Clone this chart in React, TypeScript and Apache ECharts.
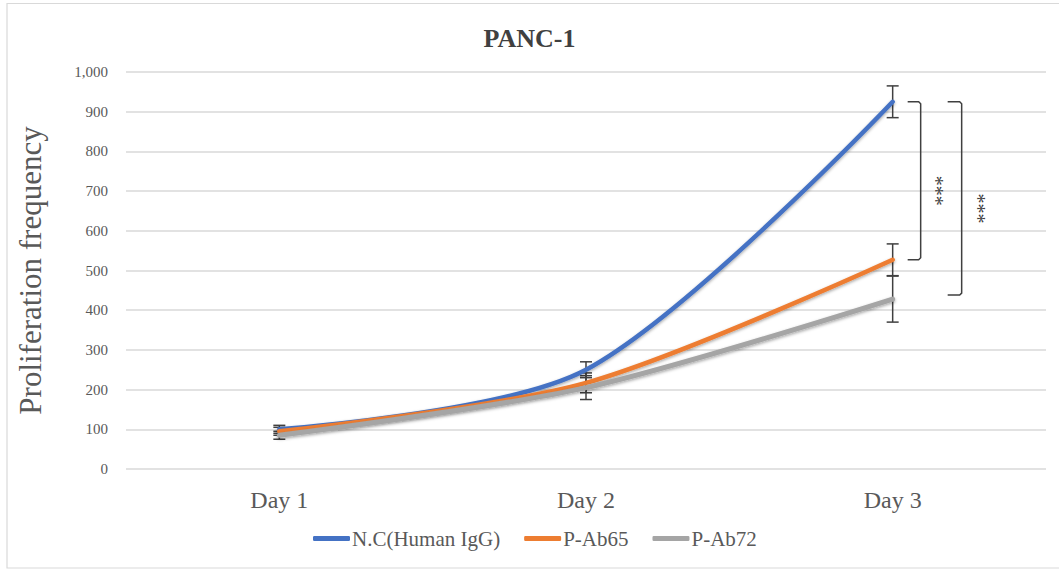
import React, { useEffect, useRef } from "react";
import * as echarts from "echarts";

const days = ["Day 1", "Day 2", "Day 3"];
const seriesNames = ["N.C(Human IgG)", "P-Ab65", "P-Ab72"];
const ncValues = [100, 250, 925];
const ab65Values = [95, 217, 527];
const ab72Values = [85, 205, 428];
const ncErrors = [10, 20, 40];
const ab65Errors = [10, 25, 40];
const ab72Errors = [10, 30, 58];
const colors = ["#4472C4", "#ED7D31", "#A5A5A5"];
// significance brackets at Day 3: [top value, bottom value, label]
const bracketTops = [925, 925];
const bracketBottoms = [527, 438];
const bracketLabels = ["***", "***"];
const yTicks = [0, 100, 200, 300, 400, 500, 600, 700, 800, 900, 1000];

const SERIF = "Liberation Serif";

export default function App() {
  const ref = useRef<HTMLDivElement>(null);
  useEffect(() => {
    if (!ref.current) return;
    const chart = echarts.init(ref.current, undefined, { renderer: "svg" });
    const valueSets = [ncValues, ab65Values, ab72Values];
    const errSets = [ncErrors, ab65Errors, ab72Errors];
    const errData: number[][] = [];
    valueSets.forEach((vals, s) => {
      vals.forEach((v, i) => {
        errData.push([i, v - errSets[s][i], v + errSets[s][i]]);
      });
    });
    const bracketData = bracketTops.map((t, i) => [2, t, bracketBottoms[i], i]);
    const bracketOffsets = [[15, 28, 43], [55, 69, 85]];

    const lineSeries = valueSets.map((vals, s) => ({
      name: seriesNames[s],
      type: "line",
      data: vals,
      smooth: 0.3,
      symbol: "none",
      z: 3,
      lineStyle: {
        width: s === 2 ? 5 : 4.5,
        color: colors[s],
        cap: "round",
        shadowColor: "rgba(0,0,0,0.35)",
        shadowBlur: 3,
        shadowOffsetY: 1.5,
      },
      itemStyle: { color: colors[s] },
    }));

    chart.setOption({
      animation: false,
      backgroundColor: "#ffffff",
      textStyle: { fontFamily: SERIF },
      title: {
        text: "PANC-1",
        left: "center",
        top: 20,
        textStyle: { fontFamily: SERIF, fontSize: 26, fontWeight: "bold", color: "#404040" },
      },
      legend: {
        data: seriesNames.map((n) => ({ name: n, icon: "roundRect" })),
        bottom: 16,
        left: 308,
        itemWidth: 37,
        itemHeight: 5,
        itemGap: 24,
        textStyle: { fontFamily: SERIF, fontSize: 21, color: "#595959", padding: [0, 0, 0, -3] },
      },
      grid: { left: 126, right: 13, top: 72, bottom: 101 },
      xAxis: {
        type: "category",
        data: days,
        boundaryGap: true,
        axisLine: { show: false },
        axisTick: { show: false },
        axisLabel: { fontFamily: SERIF, fontSize: 24, color: "#595959", margin: 19 },
      },
      yAxis: {
        type: "value",
        min: 0,
        max: 1000,
        interval: 100,
        name: "Proliferation frequency",
        nameLocation: "middle",
        nameGap: 80,
        nameTextStyle: { fontFamily: SERIF, fontSize: 31, color: "#595959" },
        axisLabel: {
          fontFamily: SERIF,
          fontSize: 15,
          color: "#595959",
          margin: 18,
          formatter: (v: number) => (yTicks.includes(v) ? v.toLocaleString("en-US") : ""),
        },
        splitLine: { lineStyle: { color: "#d9d9d9", width: 1.5 } },
      },
      graphic: [
        {
          type: "rect",
          shape: { x: 7, y: 3.5, width: 1070, height: 564.5 },
          style: { fill: "none", stroke: "#d9d9d9", lineWidth: 1.2 },
          silent: true,
        },
      ],
      series: [
        {
          type: "custom",
          name: "errors",
          data: errData,
          z: 2,
          itemStyle: { color: "#404040" },
          renderItem: (params: any, api: any) => {
            const x = api.coord([api.value(0), api.value(1)])[0];
            const yLow = api.coord([api.value(0), api.value(1)])[1];
            const yHigh = api.coord([api.value(0), api.value(2)])[1];
            const cap = 6;
            const st = { stroke: "#404040", lineWidth: 1.5 };
            return {
              type: "group",
              children: [
                { type: "line", shape: { x1: x, y1: yLow, x2: x, y2: yHigh }, style: st },
                { type: "line", shape: { x1: x - cap, y1: yLow, x2: x + cap, y2: yLow }, style: st },
                { type: "line", shape: { x1: x - cap, y1: yHigh, x2: x + cap, y2: yHigh }, style: st },
              ],
            };
          },
        },
        ...lineSeries,
        {
          type: "custom",
          name: "brackets",
          data: bracketData,
          z: 4,
          itemStyle: { color: "#404040" },
          renderItem: (params: any, api: any) => {
            const idx = api.value(3);
            const p1 = api.coord([api.value(0), api.value(1)]);
            const p2 = api.coord([api.value(0), api.value(2)]);
            const [o1, o2, o3] = bracketOffsets[idx];
            const x0 = p1[0] + o1;
            const x1 = p1[0] + o2;
            const yt = p1[1];
            const yb = p2[1];
            return {
              type: "group",
              children: [
                {
                  type: "polyline",
                  shape: {
                    points: [
                      [x0, yt],
                      [x1 - 2, yt],
                      [x1, yt + 2],
                      [x1, yb - 2],
                      [x1 - 2, yb],
                      [x0, yb],
                    ],
                  },
                  style: { stroke: "#404040", lineWidth: 1.5, fill: "none" },
                },
                {
                  type: "text",
                  x: p1[0] + o3,
                  y: (yt + yb) / 2 + 10,
                  rotation: -Math.PI / 2,
                  style: {
                    text: bracketLabels[idx],
                    font: "20px Liberation Serif",
                    fill: "#404040",
                    align: "center",
                    verticalAlign: "middle",
                  },
                },
              ],
            };
          },
        },
      ],
    });
    return () => chart.dispose();
  }, []);
  return (
    <div
      ref={ref}
      style={{ position: "fixed", left: 0, top: 0, width: 1059, height: 570 }}
    />
  );
}
